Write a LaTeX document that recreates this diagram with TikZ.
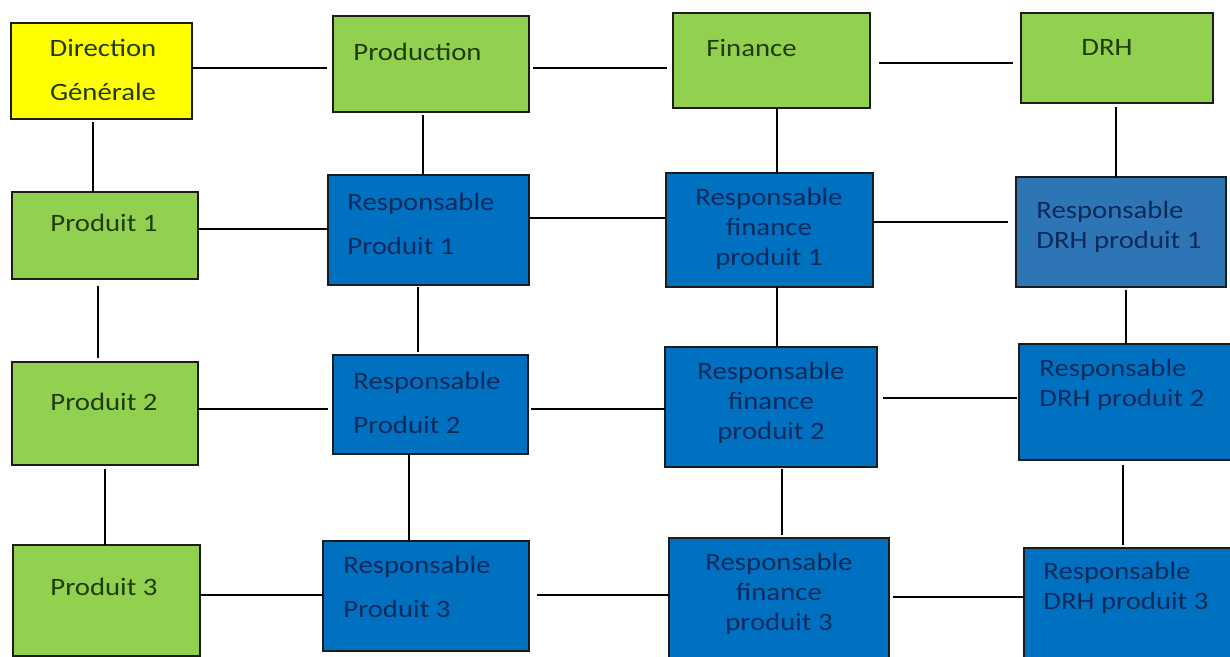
\documentclass[tikz,border=0pt]{standalone}
\usepackage{fontspec}
\setmainfont{Carlito}[FakeStretch=1.15]
\definecolor{dgyellow}{HTML}{FFFF00}
\definecolor{dgreen}{HTML}{92D050}
\definecolor{dblue}{HTML}{0070C0}
\definecolor{dbluealt}{HTML}{2E75B6}
\definecolor{edge}{HTML}{1C1C1C}
\definecolor{gtext}{HTML}{1F3D0C}
\definecolor{btext}{HTML}{0B2A5C}
\tikzset{
  unit/.style 2 args={minimum width=#1*0.5pt, minimum height=#2*0.5pt},
  box/.style={draw=edge, line width=1pt, inner sep=0pt, outer sep=0pt},
  gbox/.style={box, fill=dgreen},
  ybox/.style={box, fill=dgyellow},
  bbox/.style={box, fill=dblue},
  lbl/.style={inner sep=0pt, font=\fontsize{12.5pt}{15pt}\selectfont},
  lblwide/.style={inner sep=0pt, font=\fontsize{12.5pt}{22pt}\selectfont},
  gt/.style={text=gtext},
  bt/.style={text=btext},
  link/.style={draw=black, line width=1pt}
}
\begin{document}
\begin{tikzpicture}[x=0.5pt, y=-0.5pt]
\useasboundingbox[fill=white] (0,0) rectangle (1230,657);

% top row: management and departments
\node[ybox, unit={181}{96}] (dg)   at (101.5,71)   {};
\node[gbox, unit={196}{96}] (prod) at (431,64)     {};
\node[gbox, unit={197}{95}] (fin)  at (771.5,60.5) {};
\node[gbox, unit={192}{90}] (drh)  at (1117,58)    {};

% product rows
\node[gbox, unit={186}{87}]  (p1)    at (105,235.5)  {};
\node[bbox, unit={201}{110}] (rp1)   at (428.5,230)  {};
\node[bbox, unit={207}{114}] (rfp1)  at (769.5,230)  {};
\node[box, fill=dbluealt, unit={210}{110}] (rdrh1) at (1121,232) {};

\node[gbox, unit={186}{103}] (p2)    at (105,413.5)  {};
\node[bbox, unit={195}{99}]  (rp2)   at (430.5,404.5){};
\node[bbox, unit={212}{120}] (rfp2)  at (771,407)    {};
\node[bbox, unit={215}{116}] (rdrh2) at (1126.5,402) {};

\node[gbox, unit={187}{111}] (p3)    at (106.5,600.5){};
\node[bbox, unit={206}{110}] (rp3)   at (426,596)    {};
\node[bbox, unit={220}{122}] (rfp3)  at (779,599)    {};
\node[bbox, unit={211}{114}] (rdrh3) at (1129.5,605) {};

% labels
\node[lblwide, gt, align=center] (tdg) at (103,70) {Direction\\Générale};
\node[lbl, gt] (tprod) at (417.5,52) {Production};
\node[lbl, gt] (tfin)  at (751.5,48) {Finance};
\node[lbl, gt] (tdrh)  at (1107,47)  {DRH};
\node[lbl, gt] (tp1) at (104,223) {Produit 1};
\node[lbl, gt] (tp2) at (104,402) {Produit 2};
\node[lbl, gt] (tp3) at (104,587) {Produit 3};
\node[lblwide, bt, align=left, anchor=west] (trp1) at (347,224) {Responsable\\Produit 1};
\node[lblwide, bt, align=left, anchor=west] (trp2) at (353,403) {Responsable\\Produit 2};
\node[lblwide, bt, align=left, anchor=west] (trp3) at (343,587) {Responsable\\Produit 3};
\node[lbl, bt, align=center] (trfp1) at (769,229) {Responsable\\finance\\produit 1};
\node[lbl, bt, align=center] (trfp2) at (771,403) {Responsable\\finance\\produit 2};
\node[lbl, bt, align=center] (trfp3) at (779,594) {Responsable\\finance\\produit 3};
\node[lbl, bt, align=left, anchor=west] (trdrh1) at (1036,227) {Responsable\\DRH produit 1};
\node[lbl, bt, align=left, anchor=west] (trdrh2) at (1039,385) {Responsable\\DRH produit 2};
\node[lbl, bt, align=left, anchor=west] (trdrh3) at (1043,588) {Responsable\\DRH produit 3};

% horizontal links
\draw[link] ([shift={(0,-3)}]dg.east)     -- ([shift={(-6,4)}]prod.west);
\draw[link] ([shift={(4,4)}]prod.east)    -- ([shift={(-6,7.5)}]fin.west);
\draw[link] ([shift={(9,2.5)}]fin.east)   -- ([shift={(-8,5)}]drh.west);
\draw[link] ([shift={(0,-6.5)}]p1.east)   -- ([shift={(-1,-1)}]rp1.west);
\draw[link] ([shift={(0,-12)}]rp1.east)   -- ([shift={(0,-12)}]rfp1.west);
\draw[link] ([shift={(0,-8)}]rfp1.east)   -- ([shift={(-8,-10)}]rdrh1.west);
\draw[link] ([shift={(-1,-4.5)}]p2.east)  -- ([shift={(-5,4.5)}]rp2.west);
\draw[link] ([shift={(3,4.5)}]rp2.east)   -- ([shift={(0,2)}]rfp2.west);
\draw[link] ([shift={(6,-9)}]rfp2.east)   -- ([shift={(-2,-4)}]rdrh2.west);
\draw[link] ([shift={(0,-5.5)}]p3.east)   -- ([shift={(0,-1)}]rp3.west);
\draw[link] ([shift={(8,-1)}]rp3.east)    -- ([shift={(0,-4)}]rfp3.west);
\draw[link] ([shift={(4,-2)}]rfp3.east)   -- ([shift={(0,-8)}]rdrh3.west);

% vertical links
\draw[link] ([shift={(-8.5,3)}]dg.south)   -- ([shift={(-12,0)}]p1.north);
\draw[link] ([shift={(-8,3)}]prod.south)   -- ([shift={(-5.5,0)}]rp1.north);
\draw[link] ([shift={(5.5,0)}]fin.south)   -- ([shift={(7.5,0)}]rfp1.north);
\draw[link] ([shift={(-1,4)}]drh.south)    -- ([shift={(-5,0)}]rdrh1.north);
\draw[link] ([shift={(-7,7)}]p1.south)     -- ([shift={(-7,-4)}]p2.north);
\draw[link] ([shift={(-10.5,2)}]rp1.south) -- ([shift={(-12.5,-3)}]rp2.north);
\draw[link] ([shift={(7.5,0)}]rfp1.south)  -- ([shift={(6,0)}]rfp2.north);
\draw[link] ([shift={(5,3)}]rdrh1.south)   -- ([shift={(-0.5,0)}]rdrh2.north);
\draw[link] ([shift={(0,4)}]p2.south)      -- ([shift={(-1.5,0)}]p3.north);
\draw[link] ([shift={(-21.5,0)}]rp2.south) -- ([shift={(-17,0)}]rp3.north);
\draw[link] ([shift={(11,2)}]rfp2.south)   -- ([shift={(3,-3)}]rfp3.north);
\draw[link] ([shift={(-3.5,5)}]rdrh2.south) -- ([shift={(-6.5,-3)}]rdrh3.north);
\end{tikzpicture}
\end{document}
